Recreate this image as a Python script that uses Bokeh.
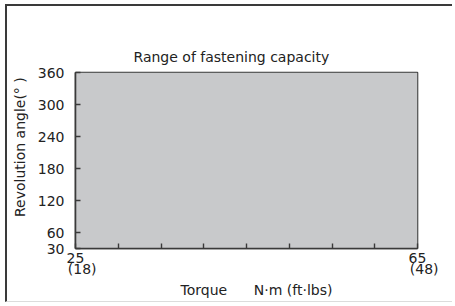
from bokeh.plotting import figure
from bokeh.models import Range1d, FixedTicker, LinearAxis, Title
from bokeh.embed import file_html
from bokeh.resources import INLINE

# ---- data ----
torque_range = [25, 65]          # N·m
angle_range = [30, 360]          # degrees
x_ticks = [25, 30, 35, 40, 45, 50, 55, 60, 65]
y_ticks = [30, 60, 120, 180, 240, 300, 360]
x_label_values = [25, 65]
x_label_nm = ["25", "65"]
x_label_ftlbs = ["(18)", "(48)"]
title_text = "Range of fastening capacity"
y_title = "Revolution angle(° )"
x_title = "Torque" + "\u00a0" * 6 + "N·m (ft·lbs)"

# ---- layout (page pixels) ----
FL, FR, FT, FB = 75, 417, 72, 248   # frame edges on the page
CX, CY = 7, 6                       # canvas origin on the page
W, H = 447, 298

FONT = "DejaVu Sans"
FS = "14px"
TXT = "#222222"
DARK = "#3a3a3a"

x0, x1 = torque_range
y0, y1 = angle_range
pad = "\u00a0" * 3    # pushes the second label row right of the tick
ypad = "\u00a0" * 6   # lifts the y title above the frame centre

p = figure(
    width=W, height=H,
    x_range=Range1d(x0, x1), y_range=Range1d(y0, y1),
    output_backend="svg", toolbar_location=None,
    min_border_left=FL - CX, min_border_right=CX + W - FR,
    min_border_top=FT - CY, min_border_bottom=CY + H - FB,
    styles={
        "margin-left": "5px", "margin-top": "4px",
        "border-left": "2px solid #3a3a3a",
        "border-top": "2px solid #3a3a3a",
        "border-bottom": "1px solid #dcdcdc",
    },
)
p.grid.visible = False
p.background_fill_color = "white"
p.border_fill_color = "white"
p.outline_line_color = DARK
p.outline_line_width = 1.6

p.quad(left=[torque_range[0]], right=[torque_range[1]],
       bottom=[angle_range[0]], top=[angle_range[1]],
       fill_color="#c8c9cb", line_color=None)


def style_axis(ax):
    ax.axis_line_color = DARK
    ax.axis_line_width = 1.6
    ax.major_tick_line_color = DARK
    ax.major_tick_line_width = 1.4
    ax.major_tick_in = 5
    ax.major_tick_out = 0
    ax.minor_tick_line_color = None
    ax.major_label_text_font = FONT
    ax.major_label_text_font_size = FS
    ax.major_label_text_color = TXT


xa = p.xaxis[0]
ya = p.yaxis[0]
style_axis(xa)
style_axis(ya)

xa.ticker = FixedTicker(ticks=x_ticks)
xa.major_label_overrides = {t: "" for t in x_ticks}
xa.major_label_overrides.update(dict(zip(x_label_values, x_label_nm)))
xa.major_label_standoff = 4

xa2 = LinearAxis(ticker=FixedTicker(ticks=x_label_values),
                 major_label_overrides={v: pad + s for v, s in zip(x_label_values, x_label_ftlbs)})
style_axis(xa2)
xa2.axis_line_color = None
xa2.major_tick_line_color = None
xa2.major_label_standoff = -5
p.add_layout(xa2, "below")

ya.ticker = FixedTicker(ticks=y_ticks)
ya.major_label_standoff = 11
ya.axis_label = ypad + y_title
ya.axis_label_standoff = 7
ya.axis_label_text_font = FONT
ya.axis_label_text_font_size = FS
ya.axis_label_text_font_style = "normal"
ya.axis_label_text_color = TXT

p.title.text = title_text
p.title.align = "left"
p.title.offset = 58
p.title.standoff = 15
p.title.text_font = FONT
p.title.text_font_size = FS
p.title.text_font_style = "normal"
p.title.text_color = TXT

p.add_layout(Title(text=x_title, align="left", offset=105, standoff=0,
                   text_font=FONT, text_font_size=FS, text_font_style="normal",
                   text_color=TXT), "below")

open("out.html", "w").write(file_html(p, INLINE))
